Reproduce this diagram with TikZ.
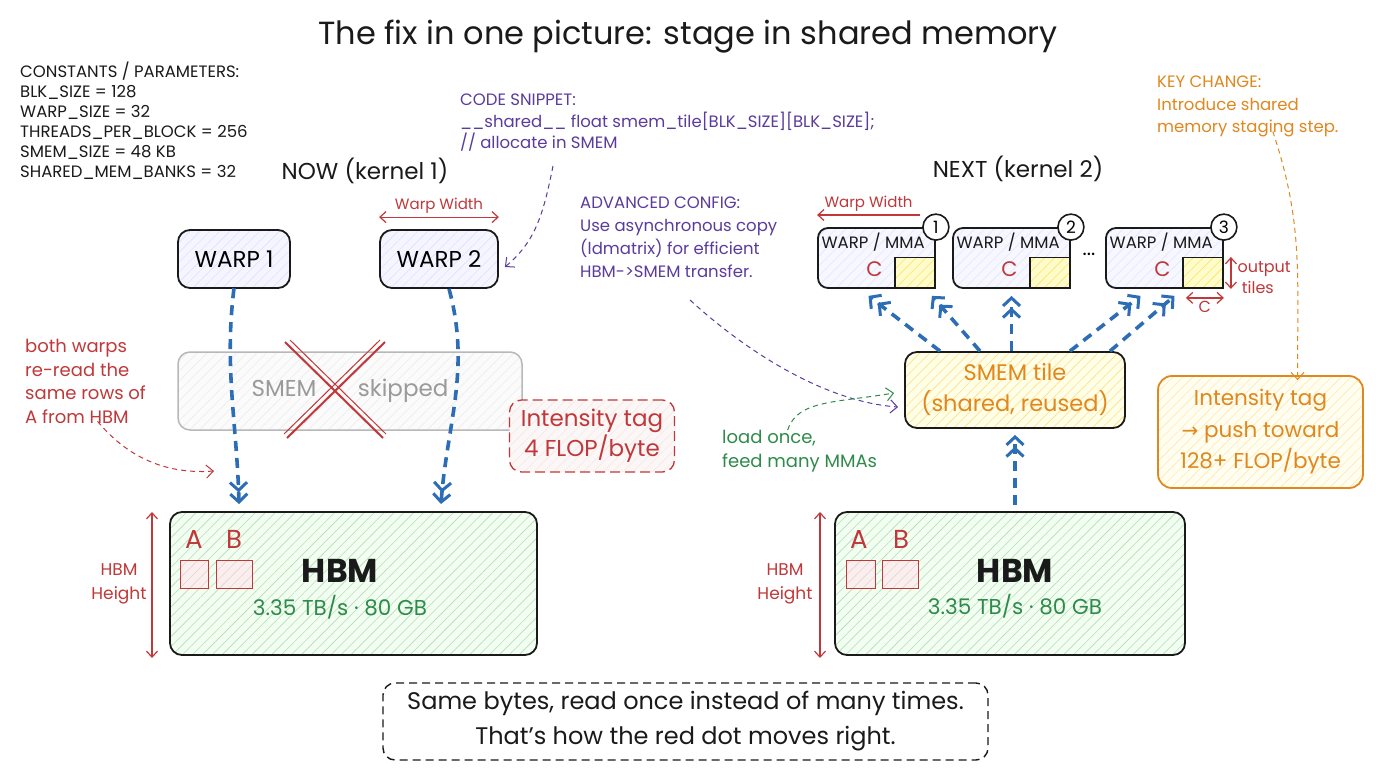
\documentclass[tikz,border=0pt]{standalone}
\usepackage{fontspec}
\setmainfont{Poppins}
\newfontfamily\symf{DejaVu Sans}
\usetikzlibrary{arrows.meta,patterns.meta,calc}
\definecolor{ink}{HTML}{1A1A1A}
\definecolor{myred}{HTML}{C0383A}
\definecolor{myblue}{HTML}{2C6DB5}
\definecolor{mygreen}{HTML}{2E8B4A}
\definecolor{myorange}{HTML}{E0871E}
\definecolor{mypurple}{HTML}{5B3C9C}
\definecolor{mygray}{HTML}{9A9A9A}
\begin{document}
\begin{tikzpicture}[x=1pt,y=-1pt,
  font=\fontsize{16}{19}\selectfont,
  hatch/.style 2 args={preaction={fill=#1},pattern={Lines[angle=45,distance=7pt,line width=0.6pt]},pattern color=#2},
  box/.style={draw=ink,line width=1.8pt,rounded corners=12pt},
  flow/.style={draw=myblue,line width=3.6pt,dash pattern=on 10pt off 7pt,
    -{Straight Barb[length=8pt,width=17pt,line width=3pt] Straight Barb[length=8pt,width=17pt,line width=3pt]}},
  note/.style={line width=1pt,dash pattern=on 5pt off 4pt,-{Straight Barb[length=7pt,width=13pt]}},
  dim/.style={draw=myred,line width=1.2pt,{Straight Barb[length=6pt,width=11pt]}-{Straight Barb[length=6pt,width=11pt]}},
  onedim/.style={draw=myred,line width=1.2pt,-{Straight Barb[length=6pt,width=11pt]}},
  sq/.style={draw=myred,line width=1pt,hatch={myred!8}{myred!25}},
  ytile/.style={draw=ink,line width=1.2pt,hatch={yellow!20}{yellow!60!orange!60}},
  num/.style={circle,draw=ink,line width=1.6pt,fill=white,minimum size=26pt,inner sep=0pt,font=\fontsize{17}{20}\selectfont},
]
\useasboundingbox[fill=white] (0,0) rectangle (1376,768);

% title
\node[font=\fontsize{32}{38}\selectfont,text=ink] (title) at (688,37) {The fix in one picture: stage in shared memory};

% constants
\node[anchor=north west,align=left,inner sep=0pt,font=\fontsize{16.5}{20}\selectfont,text=ink] (const) at (20,62)
 {CONSTANTS / PARAMETERS:\\BLK\_SIZE = 128\\WARP\_SIZE = 32\\THREADS\_PER\_BLOCK = 256\\SMEM\_SIZE = 48 KB\\SHARED\_MEM\_BANKS = 32};

\node[font=\fontsize{23}{26}\selectfont,text=ink] (now) at (365,171) {NOW (kernel 1)};
\node[font=\fontsize{23}{26}\selectfont,text=ink] (next) at (1018,169) {NEXT (kernel 2)};

% code snippet
\node[anchor=north west,align=left,inner sep=0pt,font=\fontsize{16.5}{21.5}\selectfont,text=mypurple] (snip) at (460,94)
 {CODE SNIPPET:\\\_\_shared\_\_ float smem\_tile[BLK\_SIZE][BLK\_SIZE];\\// allocate in SMEM};

% ---------------- left side ----------------
\node[box,hatch={blue!4}{blue!12},minimum width=112pt,minimum height=58pt,font=\fontsize{23}{26}\selectfont] (w1) at (234,259) {WARP 1};
\node[box,hatch={blue!4}{blue!12},minimum width=118pt,minimum height=58pt,font=\fontsize{23}{26}\selectfont] (w2) at (439,259) {WARP 2};
\draw[dim] ([yshift=12]w2.north west) -- ([yshift=12]w2.north east) node[midway,above=0pt,text=myred,font=\fontsize{15}{17}\selectfont] (ww1) {Warp Width};

\node[draw=mygray!70,line width=1.5pt,rounded corners=12pt,hatch={gray!3}{gray!15},minimum width=344pt,minimum height=78pt,text=mygray,font=\fontsize{23}{26}\selectfont] (skip) at (350,391) {SMEM \quad\ \ skipped};
\draw[myred,line width=2pt] (285,342) -- (383,438) (385,342) -- (287,438);
\draw[myred,line width=1pt] (290,340) -- (386,434) (380,340) -- (284,434);

\node[anchor=north west,align=left,inner sep=0pt,text=myred,font=\fontsize{18}{23.5}\selectfont] (both) at (25,339)
 {both warps\\re-read the\\same rows of\\A from HBM};

\node[draw=myred,line width=1.3pt,dash pattern=on 10pt off 5pt,rounded corners=12pt,hatch={myred!4}{myred!12},minimum width=165pt,minimum height=72pt,align=center,text=myred,font=\fontsize{23}{30}\selectfont] (int1) at (592,436) {Intensity tag\\4 FLOP/byte};

\node[box,hatch={green!6}{green!35!black!25},minimum width=367pt,minimum height=143pt] (hbmL) at (353.5,583.5) {};
\node[font=\bfseries\fontsize{33}{36}\selectfont,text=ink] (hbmLt) at (340,571) {HBM};
\node[text=mygreen,font=\fontsize{21.5}{24}\selectfont] (hbmLs) at (340,607) {3.35 TB/s · 80 GB};
\node[text=myred,font=\fontsize{26}{28}\selectfont] (aL) at (194,539) {A};
\node[text=myred,font=\fontsize{26}{28}\selectfont] (bL) at (234,539) {B};
\node[sq,minimum width=28pt,minimum height=28pt,inner sep=0pt] (sqAL) at (194,574) {};
\node[sq,minimum width=36pt,minimum height=28pt,inner sep=0pt] (sqBL) at (234,574) {};
\draw[dim] (152,512) -- (152,658);
\node[align=center,text=myred,font=\fontsize{17}{24}\selectfont] (hhL) at (119,584) {HBM\\Height};

\coordinate (hA) at (239,504);
\coordinate (hB) at (441,504);
\draw[flow] (w1.south) .. controls +(-10,80) and +(-2,-80) .. (hA);
\draw[flow] ([xshift=10]w2.south) .. controls +(22,80) and +(6,-80) .. (hB);

\coordinate (bothend) at (214,471);
\draw[note,myred] ([xshift=12,yshift=2]both.south) .. controls +(25,30) and +(-55,4) .. (bothend);

\coordinate (snipstart) at (553,166);
\draw[note,mypurple] (snipstart) .. controls +(-10,50) and +(30,-25) .. ([xshift=6,yshift=-8]w2.east);

% ---------------- right side ----------------
\node[anchor=north west,align=left,inner sep=0pt,text=mypurple,font=\fontsize{16.5}{23}\selectfont] (adv) at (580,197)
 {ADVANCED CONFIG:\\Use asynchronous copy\\(ldmatrix) for efficient\\HBM->SMEM transfer.};

\foreach \i/\cx in {1/876.5,2/1011.5,3/1164.5}{
  \node[box,rounded corners=10pt,hatch={blue!3}{blue!10},minimum width=117pt,minimum height=60pt] (mma\i) at (\cx,258) {};
  \node[anchor=west,text=ink,font=\fontsize{16.5}{18}\selectfont] (mmat\i) at ($(mma\i.north west)+(1,15)$) {WARP / MMA};
  \draw[ytile] ($(mma\i.north east)+(-41,30)$) rectangle ($(mma\i.south east)+(-1,-1)$);
  \node[text=myred,font=\fontsize{21}{24}\selectfont] (mmac\i) at ($(mma\i.center)+(-2,11)$) {C};
  \node[num] (n\i) at (mma\i.north east) {\i};
}
\node[font=\fontsize{20}{22}\selectfont] (dots) at (1089,254) {...};

\draw[onedim] (920,215) -- (mma1.north west |- 0,215) node[pos=0.5,above=0pt,text=myred,font=\fontsize{15}{17}\selectfont] (ww2) {Warp Width};
\draw[dim] ([xshift=7,yshift=1]mma3.east |- 0,258) -- ([xshift=7]mma3.south east);
\node[anchor=west,align=left,text=myred,font=\fontsize{16}{21}\selectfont] (outt) at (1234,278) {output\\\ tiles};
\draw[dim] ([yshift=-9]mma3.south east) -- ++(-38,0) node[midway,below=-1pt,text=myred,font=\fontsize{16}{18}\selectfont] (cdim) {C};

\node[box,hatch={yellow!10}{yellow!45!orange!45},minimum width=220pt,minimum height=76pt,align=center,text=myorange,font=\fontsize{22.5}{31}\selectfont] (smem) at (1015,390) {SMEM tile\\(shared, reused)};

\node[box,hatch={green!6}{green!35!black!25},minimum width=350pt,minimum height=143pt] (hbmR) at (1010,583.5) {};
\node[font=\bfseries\fontsize{33}{36}\selectfont,text=ink] (hbmRt) at (1015,571) {HBM};
\node[text=mygreen,font=\fontsize{21.5}{24}\selectfont] (hbmRs) at (1015,606) {3.35 TB/s · 80 GB};
\node[text=myred,font=\fontsize{26}{28}\selectfont] (aR) at (859,539) {A};
\node[text=myred,font=\fontsize{26}{28}\selectfont] (bR) at (901,539) {B};
\node[sq,minimum width=29pt,minimum height=28pt,inner sep=0pt] (sqAR) at (860.5,574) {};
\node[sq,minimum width=36pt,minimum height=28pt,inner sep=0pt] (sqBR) at (900,574) {};
\draw[dim] (820,512) -- (820,658);
\node[align=center,text=myred,font=\fontsize{17}{24}\selectfont] (hhR) at (785,584) {HBM\\Height};

\draw[flow] (hbmR.north -| smem.south) ++(0,-6) -- ([yshift=-6]smem.south);
\draw[flow] ([xshift=-75]smem.north) -- ([xshift=-8,yshift=-7]mma1.south);
\draw[flow] ([xshift=-35]smem.north) -- ([xshift=-4,yshift=-7]mma1.south east);
\draw[flow] (smem.north -| mma2.south) -- ([yshift=-7]mma2.south);
\draw[flow] ([xshift=55]smem.north) -- ([xshift=-24,yshift=-7]mma3.south);
\draw[flow] ([xshift=95]smem.north) -- ([xshift=10,yshift=-7]mma3.south);

\coordinate (advstart) at (690,300);
\draw[note,mypurple] (advstart) .. controls +(60,55) and +(-70,-5) .. ([xshift=-6,yshift=-17]smem.west);

\node[anchor=north west,align=left,inner sep=0pt,text=mygreen,font=\fontsize{18}{24}\selectfont] (load) at (722,430)
 {load once,\\feed many MMAs};
\draw[note,mygreen] ([xshift=-12]load.north) .. controls +(10,-30) and +(-60,10) .. ([xshift=-10,yshift=-3]smem.west);

\node[anchor=north west,align=left,inner sep=0pt,text=myorange,font=\fontsize{16.5}{22.5}\selectfont] (key) at (1157,76)
 {KEY CHANGE:\\Introduce shared\\memory staging step.};

\node[draw=myorange,line width=1.8pt,rounded corners=14pt,hatch={yellow!6}{yellow!40!orange!30},minimum width=205pt,minimum height=112pt,align=center,text=myorange,font=\fontsize{21.5}{31.5}\selectfont] (int2) at (1260.5,432)
 {Intensity tag\\{\symf\fontsize{20}{22}\selectfont →} push toward\\128+ FLOP/byte};
\draw[note,myorange] ([xshift=25,yshift=6]key.south) .. controls +(30,90) and +(0,-110) .. ([xshift=37,yshift=-5]int2.north);

% bottom
\node[draw=ink,line width=1.4pt,dash pattern=on 8pt off 5pt,rounded corners=12pt,minimum width=605pt,minimum height=77pt,align=center,text=ink,font=\fontsize{24}{35}\selectfont] (bottom) at (685.5,721.5)
 {Same bytes, read once instead of many times.\\That’s how the red dot moves right.};
\end{tikzpicture}
\end{document}
